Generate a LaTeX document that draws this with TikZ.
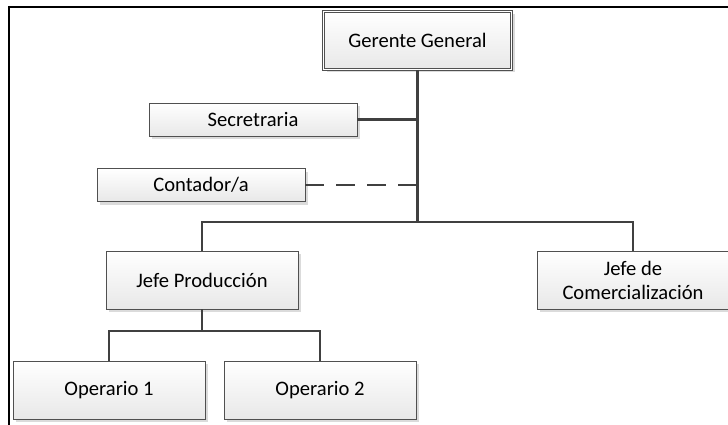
\documentclass[tikz,border=0pt]{standalone}
\usepackage{fontspec}
\setmainfont{Carlito}
\usetikzlibrary{shadows}
\definecolor{boxline}{HTML}{505050}
\definecolor{linkgray}{HTML}{404040}

\begin{document}
\begin{tikzpicture}[
  x=1pt, y=-1pt,
  every node/.style={font=\fontsize{20.6}{24}\selectfont},
  unit/.style={draw=boxline, line width=0.9pt,
               top color=white, bottom color=black!9,
               drop shadow={shadow xshift=3pt, shadow yshift=-3pt,
                            fill=black!14, opacity=1},
               minimum width=192pt, minimum height=58pt,
               align=center, inner sep=2pt},
  small/.style={unit, minimum width=208pt, minimum height=33pt},
  link/.style={draw=linkgray, line width=2.6pt},
  dashlink/.style={link, dash pattern=on 19pt off 12pt}
]
\useasboundingbox (0,0) rectangle (728,425);

%% Frame
\draw[line width=2.5pt] (8,7) -- (728,7);
\draw[line width=2.5pt] (9,5.8) -- (9,425);

%% Top box
\node[unit, double=white, double distance=1.6pt, line width=0.7pt,
      minimum width=188pt, minimum height=58pt] (gg) at (417.5,40.5)
  {Gerente General};

%% Staff boxes
\node[small] (sec)  at (253,119.5) {Secretraria};
\node[small] (cont) at (201,185)   {Contador/a};

%% Second level
\node[unit] (jp) at (202,280) {Jefe Producción};
\node[unit] (jc) at (633,280) {Jefe de\\Comercialización};

%% Third level
\node[unit] (op1) at (109,390) {Operario 1};
\node[unit] (op2) at (320,390) {Operario 2};

%% Junctions
\coordinate (hub) at (gg.south |- 0,222);
\coordinate (subhub) at (jp.south |- 0,331);

%% Connectors
\draw[link] (gg.south) -- (hub);
\draw[link] (sec.east) -- (sec.east -| gg.south);
\draw[dashlink] (cont.east) -- (cont.east -| gg.south);
\draw[link] (jp.north) |- (hub) -| (jc.north);
\draw[link] (jp.south) -- (subhub);
\draw[link] (op1.north) |- (subhub) -| (op2.north);

\end{tikzpicture}
\end{document}
